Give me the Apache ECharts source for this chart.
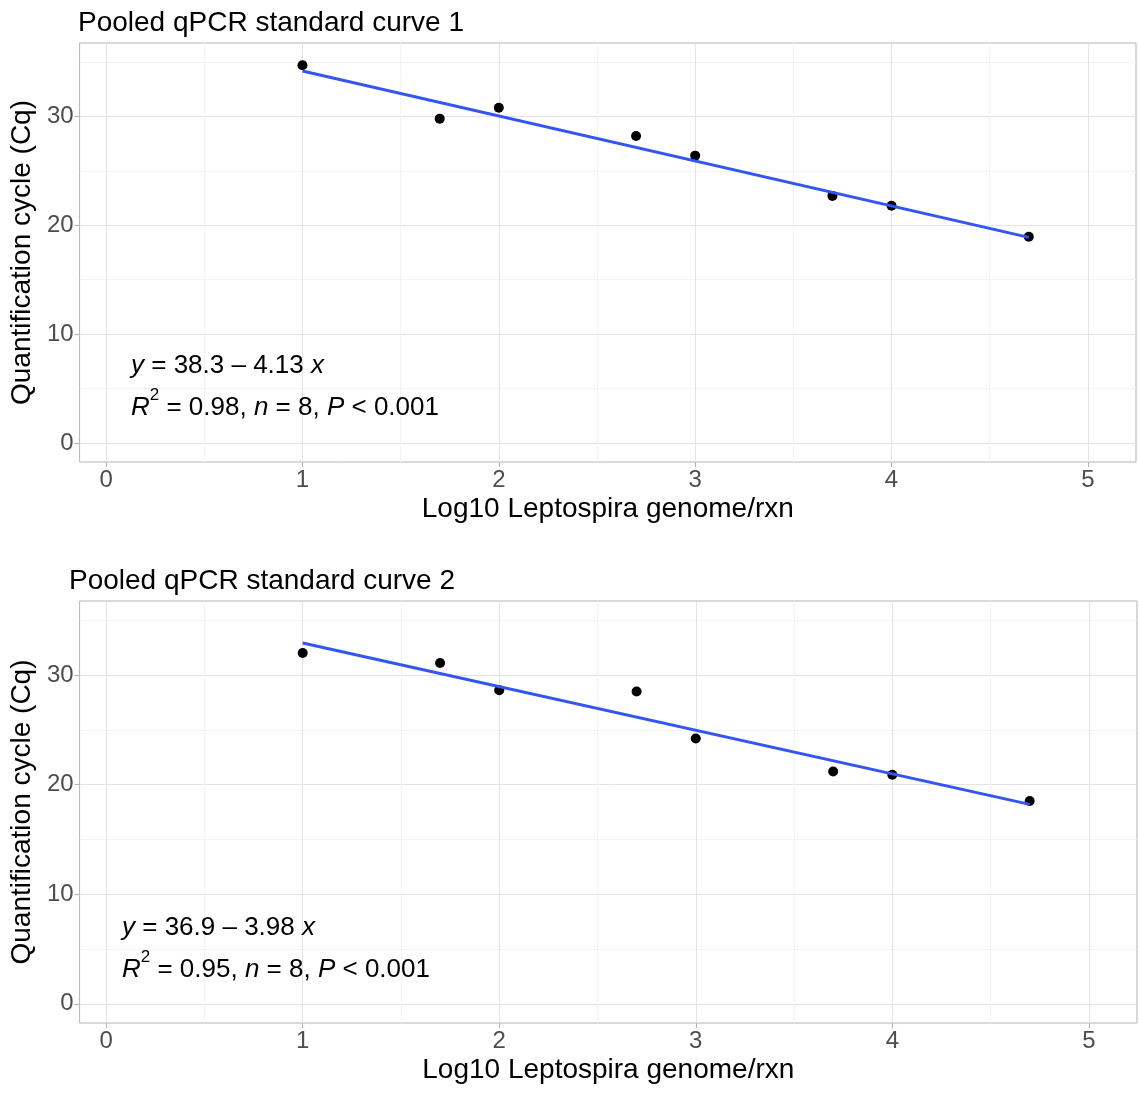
<!DOCTYPE html>
<html>
<head>
<meta charset="utf-8">
<script src="https://cdn.jsdelivr.net/npm/echarts@6/dist/echarts.min.js"></script>
<style>
html,body{margin:0;padding:0;background:#fff;}
#chart{width:1139px;height:1093px;}
</style>
</head>
<body>
<div id="chart"></div>
<script>
// ---- data ----
const panelTitles = ['Pooled qPCR standard curve 1', 'Pooled qPCR standard curve 2'];
const xLog = [1, 1.699, 2, 2.699, 3, 3.699, 4, 4.699];
const cq1 = [34.7, 29.8, 30.8, 28.2, 26.4, 22.7, 21.8, 18.95];
const cq2 = [32.0, 31.1, 28.6, 28.5, 24.2, 21.2, 20.9, 18.5];
const intercepts = [38.3, 36.9];
const slopes = [-4.13, -3.98];
const r2 = [0.98, 0.95];
const nObs = [8, 8];
const xTicks = [0, 1, 2, 3, 4, 5];
const xMinorTicks = [0.5, 1.5, 2.5, 3.5, 4.5];
const yTicks = [0, 10, 20, 30];
const yMinorTicks = [5, 15, 25, 35];
const xTitle = 'Log10 Leptospira genome/rxn';
const yTitle = 'Quantification cycle (Cq)';

const FONT = '"Liberation Sans", Arial, sans-serif';
const seriesY = [cq1, cq2];

const grids = [
  {left: 77, top: 43, width: 1059, height: 419},
  {left: 68, top: 601, width: 1069, height: 422}
];
const yNameGap = [42, 40];

const xMin = -0.135, xMax = 5.245, yMin = -1.75, yMax = 36.75;

const xAxes = [], yAxes = [], series = [], graphics = [], titles = [];

grids.forEach((g, i) => {
  xAxes.push({
    type: 'value', gridIndex: i, min: xMin, max: xMax,
    name: xTitle, nameLocation: 'middle', nameGap: 33,
    nameTextStyle: {fontSize: 28, fontFamily: FONT, color: '#000'},
    axisLine: {show: false, onZero: false},
    axisTick: {show: true, length: 5, customValues: xTicks, lineStyle: {color: '#B3B3B3', width: 1}},
    axisLabel: {customValues: xTicks, fontSize: 24, fontFamily: FONT, color: '#4D4D4D', margin: 6},
    splitLine: {show: true, lineStyle: {color: '#E4E4E4', width: 1}}
  });
  yAxes.push({
    type: 'value', gridIndex: i, min: yMin, max: yMax,
    name: yTitle, nameLocation: 'middle', nameGap: yNameGap[i], nameRotate: 90,
    nameTextStyle: {fontSize: 28, fontFamily: FONT, color: '#000'},
    axisLine: {show: false, onZero: false},
    axisTick: {show: true, length: 5, customValues: yTicks, lineStyle: {color: '#B3B3B3', width: 1}},
    axisLabel: {customValues: yTicks, fontSize: 24, fontFamily: FONT, color: '#4D4D4D', margin: 6},
    splitLine: {show: true, lineStyle: {color: '#E4E4E4', width: 1}}
  });
});
grids.forEach((g, i) => {
  xAxes.push({
    type: 'value', gridIndex: i, min: xMin, max: xMax, position: 'top',
    axisLine: {show: false, onZero: false},
    axisTick: {show: false, customValues: xMinorTicks},
    axisLabel: {show: false, customValues: xMinorTicks},
    splitLine: {show: true, lineStyle: {color: '#F3F3F3', width: 1}}
  });
  yAxes.push({
    type: 'value', gridIndex: i, min: yMin, max: yMax, position: 'right',
    axisLine: {show: false, onZero: false},
    axisTick: {show: false, customValues: yMinorTicks},
    axisLabel: {show: false, customValues: yMinorTicks},
    splitLine: {show: true, lineStyle: {color: '#F3F3F3', width: 1}}
  });
});

grids.forEach((g, i) => {
  const ys = seriesY[i];
  series.push({
    type: 'scatter', xAxisIndex: i, yAxisIndex: i, z: 3,
    symbol: 'circle', symbolSize: 10,
    itemStyle: {color: '#000', opacity: 1},
    data: xLog.map((x, k) => [x, ys[k]])
  });
  const x0 = Math.min(...xLog), x1 = Math.max(...xLog);
  series.push({
    type: 'line', xAxisIndex: i, yAxisIndex: i, z: 4,
    symbol: 'none', silent: true,
    lineStyle: {color: '#3355F2', width: 3},
    data: [[x0, intercepts[i] + slopes[i] * x0], [x1, intercepts[i] + slopes[i] * x1]]
  });
  titles.push({
    text: panelTitles[i], left: g.left + 1, top: g.top - 34, padding: 0,
    textStyle: {fontSize: 28, fontWeight: 'normal', fontFamily: FONT, color: '#000'}
  });
});

const richBase = {
  n: {fontSize: 26, fontFamily: FONT, fontStyle: 'normal', lineHeight: 42, fill: '#000'},
  i: {fontSize: 26, fontFamily: FONT, fontStyle: 'italic', lineHeight: 42, fill: '#000'},
  sup: {fontSize: 17, fontFamily: FONT, fontStyle: 'normal', lineHeight: 17, verticalAlign: 'top', fill: '#000'}
};
const annY = [[366, 408], [928, 970]];
grids.forEach((g, i) => {
  const sign = slopes[i] < 0 ? '\u2013' : '+';
  const line1 = '{i|y}{n| = ' + intercepts[i].toFixed(1) + ' ' + sign + ' ' + Math.abs(slopes[i]).toFixed(2) + ' }{i|x}';
  const line2 = '{i|R}{sup|2}{n| = ' + r2[i].toFixed(2) + ', }{i|n}{n| = ' + nObs[i] + ', }{i|P}{n| < 0.001}';
  [line1, line2].forEach((t, k) => {
    graphics.push({
      type: 'text', x: g.left + 54, y: annY[i][k], z: 10,
      style: {text: t, rich: richBase, fontSize: 26, fontFamily: FONT, fill: '#000', align: 'left', verticalAlign: 'middle'}
    });
  });
});

const chart = echarts.init(document.getElementById('chart'), null, {renderer: 'canvas'});
chart.setOption({
  backgroundColor: '#fff',
  animation: false,
  title: titles,
  grid: grids.map(g => Object.assign({show: true, borderColor: '#B3B3B3', borderWidth: 1, backgroundColor: '#fff', containLabel: false}, g)),
  xAxis: xAxes,
  yAxis: yAxes,
  series: series,
  graphic: graphics
});
</script>
</body>
</html>
